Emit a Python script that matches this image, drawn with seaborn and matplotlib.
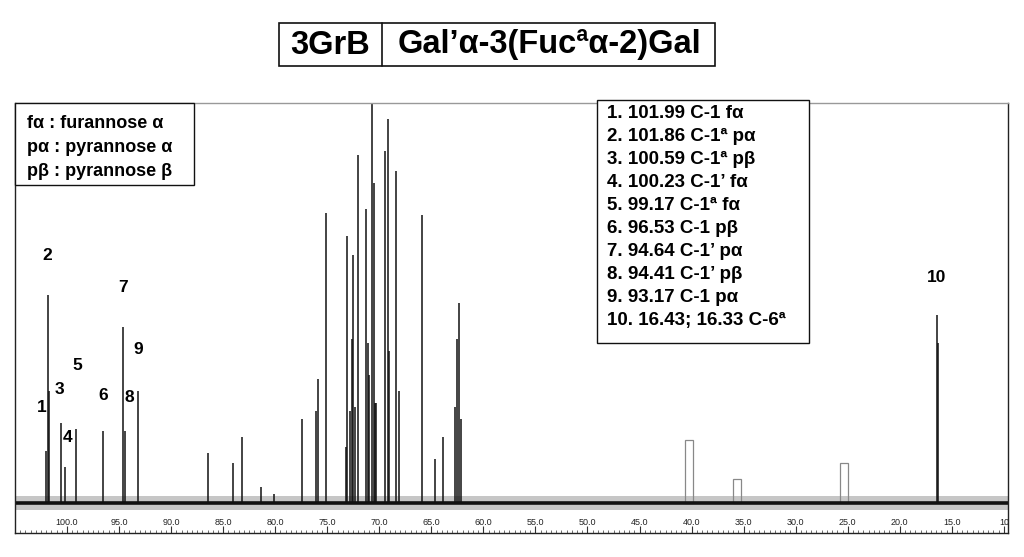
import numpy as np
import pandas as pd
import matplotlib
matplotlib.use("Agg")
import matplotlib.pyplot as plt
import matplotlib.patches as mpatches
import seaborn as sns

# ---------------- data ----------------
peak_ppm = [101.99, 101.86, 101.76, 100.59, 100.23, 99.17, 96.53, 94.64, 94.41, 93.17,
            86.5, 84.1, 83.2, 81.4, 80.1, 77.44, 76.05, 75.87, 75.15,
            73.24, 73.08, 72.8, 72.6, 72.5, 72.35, 72.06,
            71.26, 71.13, 70.97, 70.69, 70.55, 70.4, 70.27,
            69.41, 69.19, 69.09, 68.42, 68.1, 65.9, 64.69, 63.92,
            62.7, 62.58, 62.36, 62.17, 16.43, 16.33]
peak_height = [13, 52, 28, 20, 9, 18.5, 18, 44, 18, 28,
               12.5, 10, 16.5, 4, 2.3, 21, 23, 31, 72.5,
               14, 66.7, 23, 41, 62, 24, 87,
               73.5, 40, 32, 105, 80, 25, 25,
               88, 96, 38, 83, 28, 72, 11, 16.5,
               24, 41, 50, 21, 47, 40]

label_text = ["1", "2", "3", "4", "5", "6", "7", "8", "9", "10"]
label_ppm = [102.42, 101.89, 100.69, 99.92, 99.06, 96.56, 94.64, 94.06, 93.2, 16.46]
label_y = [24, 61.75, 28.25, 16.5, 34.5, 27, 53.75, 26.25, 38.25, 56.5]

marker_ppm = [40.22, 35.64, 25.34]
marker_height = [15.75, 5.9, 10.0]

major_ticks = [100, 95, 90, 85, 80, 75, 70, 65, 60, 55, 50, 45, 40, 35, 30, 25, 20, 15, 10]
major_labels = ["100.0", "95.0", "90.0", "85.0", "80.0", "75.0", "70.0", "65.0", "60.0",
                "55.0", "50.0", "45.0", "40.0", "35.0", "30.0", "25.0", "20.0", "15.0", "10"]

legend_lines = ["fα : furannose α", "pα : pyrannose α", "pβ : pyrannose β"]
assign_lines = ["1. 101.99 C-1 fα", "2. 101.86 C-1ª pα", "3. 100.59 C-1ª pβ",
                "4. 100.23 C-1’ fα", "5. 99.17 C-1ª fα", "6. 96.53 C-1 pβ",
                "7. 94.64 C-1’ pα", "8. 94.41 C-1’ pβ", "9. 93.17 C-1 pα",
                "10. 16.43; 16.33 C-6ª"]
title_left = "3GrB"
title_right = "Gal’α-3(Fucªα-2)Gal"

# ---------------- style ----------------
sns.set_theme(style="white")
plt.rcParams["font.family"] = ["Liberation Sans", "DejaVu Sans"]
plt.rcParams["text.color"] = "black"
plt.rcParams["xtick.color"] = "#222222"

W, H = 1024, 557
fig = plt.figure(figsize=(W / 100, H / 100), dpi=100)

def fx(x):
    return x / W

def fy(y):
    return 1 - y / H

ax_l, ax_r, ax_t, ax_b = 15, 1008, 103, 533
ax = fig.add_axes([fx(ax_l), fy(ax_b), fx(ax_r) - fx(ax_l), fy(ax_t) - fy(ax_b)])

xmin, xmax = 105.0, 9.6
# baseline (noise band)
base = pd.DataFrame({"ppm": [xmin, xmax], "y": [0.0, 0.0]})
ax.fill_between([xmin, xmax], -1.8, 1.8, color="#444444", alpha=0.3, linewidth=0)
sns.lineplot(data=base, x="ppm", y="y", ax=ax, color="#111111", linewidth=2.6)
# peaks
ax.vlines(peak_ppm, 0, peak_height, color="#111111", linewidth=1.1)
# open marker rectangles
ax.bar(marker_ppm, marker_height, width=0.75, bottom=0, fill=False,
       edgecolor="#888888", linewidth=0.9)

for t, xp, yp in zip(label_text, label_ppm, label_y):
    ax.text(xp, yp, t, ha="center", va="center", fontsize=12.5, fontweight="bold")

ax.set_xlim(xmin, xmax)
ax.set_ylim(-7.5, 100)
ax.set_xlabel("")
ax.set_ylabel("")
ax.set_yticks([])
ax.set_xticks(major_ticks)
ax.set_xticklabels(major_labels)
ax.set_xticks(np.arange(10, 105.01, 0.5), minor=True)
ax.tick_params(axis="x", which="major", direction="in", length=5, width=0.8,
               labelsize=6.5, pad=-11, bottom=True, color="#333333")
ax.tick_params(axis="x", which="minor", direction="in", length=2, width=0.6,
               bottom=True, color="#555555")
for s in ax.spines.values():
    s.set_visible(True)
    s.set_color("#222222")
    s.set_linewidth(1.0)
ax.spines["top"].set_color("#999999")

# legend box top-left
fig.add_artist(mpatches.Rectangle((fx(15), fy(185)), fx(194) - fx(15), fy(103) - fy(185),
                                  transform=fig.transFigure, fill=True, facecolor="white",
                                  edgecolor="#111111", linewidth=1.0))
for i, line in enumerate(legend_lines):
    fig.text(fx(27), fy(124 + i * 24), line, ha="left", va="center",
             fontsize=13, fontweight="bold")

# assignment box
fig.add_artist(mpatches.Rectangle((fx(597), fy(343)), fx(809) - fx(597), fy(100) - fy(343),
                                  transform=fig.transFigure, fill=True, facecolor="white",
                                  edgecolor="#111111", linewidth=1.0))
for i, line in enumerate(assign_lines):
    fig.text(fx(607), fy(113 + i * 23.1), line, ha="left", va="center",
             fontsize=13.5, fontweight="bold")

# title boxes
fig.add_artist(mpatches.Rectangle((fx(279), fy(66)), fx(715) - fx(279), fy(23) - fy(66),
                                  transform=fig.transFigure, fill=False,
                                  edgecolor="#111111", linewidth=1.2))
fig.add_artist(plt.Line2D([fx(382), fx(382)], [fy(66), fy(23)], transform=fig.transFigure,
                          color="#111111", linewidth=1.2))
fig.text(fx(330.5), fy(45), title_left, ha="center", va="center", fontsize=23.5,
         fontweight="bold")
fig.text(fx(549), fy(45), title_right, ha="center", va="center", fontsize=23.5,
         fontweight="bold")

fig.savefig("out.png", dpi=100)
